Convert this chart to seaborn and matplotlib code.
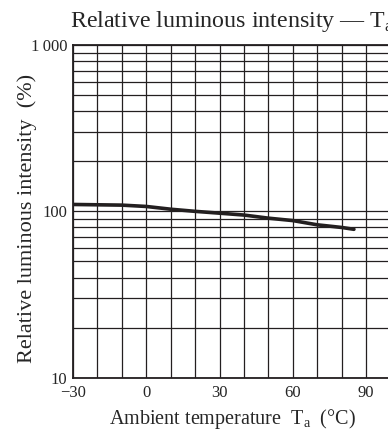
import numpy as np
import pandas as pd
import matplotlib
matplotlib.use("Agg")
import matplotlib.pyplot as plt
from matplotlib.ticker import FixedLocator, NullFormatter
import seaborn as sns

# values
temperature = [-30, -20, -10, 0, 10, 20, 30, 40, 50, 60, 70, 80, 85]
intensity = [110, 109.5, 109, 107, 103, 100, 97.5, 95, 91, 88, 83, 80, 78]

x_ticks = [-30, 0, 30, 60, 90]
x_tick_labels = ["\u221230", "0", "30", "60", "90"]
y_ticks = [10, 100, 1000]
y_tick_labels = ["10", "100", "1\u2009000"]

sns.set_style("white")
plt.rcParams['font.family'] = ['Liberation Serif', 'DejaVu Serif']
plt.rcParams['mathtext.fontset'] = 'custom'
plt.rcParams['mathtext.rm'] = 'Liberation Serif'

df = pd.DataFrame({"Ta": temperature, "rel": intensity})

fig = plt.figure(figsize=(3.88, 4.30), dpi=100)
ax = fig.add_axes([73 / 388, 52.3 / 430, 342 / 388, 332.7 / 430])

sns.lineplot(data=df, x="Ta", y="rel", color="#231f20", linewidth=2.6, ax=ax)

ax.set_yscale("log")
ax.set_xlim(-30, 110)
ax.set_ylim(10, 1000)

# grid every 10 degC and at every 1-2-...-9 on the log axis
ax.xaxis.set_major_locator(FixedLocator(x_ticks))
ax.xaxis.set_minor_locator(FixedLocator(np.arange(-30, 111, 10)))
ax.yaxis.set_major_locator(FixedLocator(y_ticks))
ax.yaxis.set_minor_locator(FixedLocator([m * d for d in (10, 100) for m in range(2, 10)]))
ax.yaxis.set_minor_formatter(NullFormatter())
ax.set_yticklabels(y_tick_labels)
ax.set_xticklabels(x_tick_labels)
ax.grid(True, which="both", color="#231f20", linewidth=0.9)
ax.tick_params(which="both", length=0, labelsize=12)
ax.tick_params(axis="x", pad=5)
ax.tick_params(axis="y", pad=4)

for s in ax.spines.values():
    s.set_color("#231f20")
    s.set_linewidth(1.3)

ax.set_xlabel("Ambient temperature  T$_\\mathrm{a}$  (°C)", fontsize=14.5)
ax.set_ylabel("Relative luminous intensity  (%)", fontsize=16)
ax.xaxis.set_label_coords(0.465, -0.088)
ax.yaxis.set_label_coords(-0.105, 0.48)

fig.text(70 / 388, 1 - 27 / 430, "Relative luminous intensity \u2014 T$_\\mathrm{a}$",
         fontsize=17.3, ha="left", va="baseline")

fig.savefig("out.png", dpi=100)
